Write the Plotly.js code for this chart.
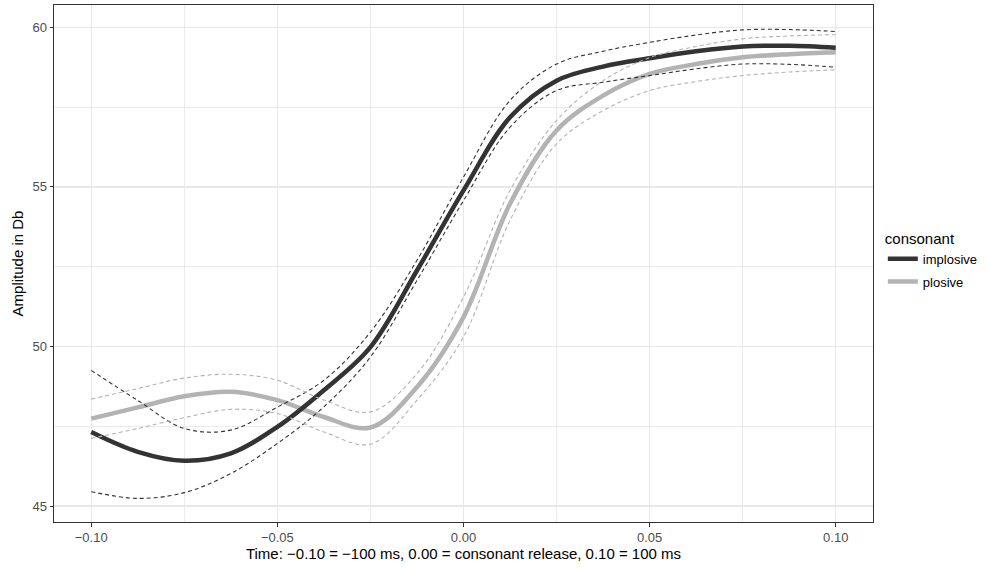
<!DOCTYPE html>
<html>
<head>
<meta charset="utf-8">
<script src="https://cdn.plot.ly/plotly-3.0.1.min.js"></script>
<style>html,body{margin:0;padding:0;background:#fff;}#chart{width:988px;height:569px;}</style>
</head>
<body>
<div id="chart"></div>
<script>
// Time points (s)
const time = [-0.1, -0.0875, -0.075, -0.0625, -0.05, -0.0375, -0.025, -0.0125, 0, 0.0125, 0.025, 0.0375, 0.05, 0.0625, 0.075, 0.0875, 0.1];

// implosive
const implosiveFit   = [47.32, 46.70, 46.42, 46.65, 47.48, 48.63, 49.98, 52.38, 54.89, 57.18, 58.33, 58.77, 59.03, 59.25, 59.40, 59.42, 59.36];
const implosiveUpper = [49.25, 48.31, 47.43, 47.38, 48.10, 48.94, 50.45, 52.70, 55.31, 57.71, 58.85, 59.25, 59.53, 59.76, 59.92, 59.93, 59.87];
const implosiveLower = [45.45, 45.24, 45.42, 46.02, 46.96, 48.11, 49.67, 52.07, 54.57, 56.87, 58.02, 58.28, 58.49, 58.70, 58.85, 58.84, 58.75];

// plosive
const plosiveFit   = [47.74, 48.09, 48.44, 48.58, 48.32, 47.79, 47.46, 48.73, 50.92, 54.47, 56.77, 57.86, 58.54, 58.85, 59.06, 59.16, 59.22];
const plosiveUpper = [48.35, 48.68, 49.01, 49.13, 48.94, 48.32, 47.95, 49.15, 51.55, 54.89, 57.08, 58.33, 59.05, 59.40, 59.64, 59.73, 59.77];
const plosiveLower = [47.12, 47.43, 47.77, 48.03, 47.90, 47.32, 46.94, 48.32, 50.30, 53.95, 56.35, 57.39, 58.02, 58.30, 58.49, 58.60, 58.67];

const xTicks = [-0.10, -0.05, 0.00, 0.05, 0.10];
const xTickText = ["\u22120.10", "\u22120.05", "0.00", "0.05", "0.10"];
const yTicks = [45, 50, 55, 60];

const darkCol = '#333333';
const lightCol = '#b3b3b3';

function ci(y, col, name, rank) {
  return {x: time, y: y, type: 'scatter', mode: 'lines', legendgroup: name, legendrank: rank, showlegend: false,
    line: {color: col, width: 1.1, dash: '4px,3px', shape: 'spline', smoothing: 1}, hoverinfo: 'skip'};
}

const traces = [
  {x: time, y: plosiveFit, type: 'scatter', mode: 'lines', name: 'plosive', legendgroup: 'plosive', legendrank: 2,
   line: {color: lightCol, width: 4.5, shape: 'spline', smoothing: 1}},
  {x: time, y: implosiveFit, type: 'scatter', mode: 'lines', name: 'implosive', legendgroup: 'implosive', legendrank: 1,
   line: {color: darkCol, width: 4.5, shape: 'spline', smoothing: 1}},
  ci(implosiveUpper, darkCol, 'implosive', 1),
  ci(implosiveLower, darkCol, 'implosive', 1),
  ci(plosiveUpper, lightCol, 'plosive', 2),
  ci(plosiveLower, lightCol, 'plosive', 2)
];

const gridCol = '#e8e8e8';
const layout = {
  width: 988, height: 569,
  margin: {l: 54, r: 115, t: 4.5, b: 47, pad: 0},
  paper_bgcolor: '#ffffff', plot_bgcolor: '#ffffff',
  font: {family: 'Liberation Sans, Arial, sans-serif', color: '#000000', size: 14},
  showlegend: true,
  legend: {
    x: 1.012, y: 0.576, xanchor: 'left', yanchor: 'top',
    title: {text: 'consonant', font: {size: 15, color: '#000'}},
    font: {size: 13, color: '#000'},
    traceorder: 'grouped',
    itemwidth: 30, tracegroupgap: 3,
    bgcolor: 'rgba(0,0,0,0)'
  },
  xaxis: {
    range: [-0.11, 0.11],
    tickvals: xTicks, ticktext: xTickText,
    ticks: 'outside', ticklen: 3.5, tickwidth: 1, tickcolor: '#333333',
    tickfont: {size: 13, color: '#4d4d4d'},
    showgrid: true, gridcolor: gridCol, gridwidth: 1.4,
    minor: {tickvals: [-0.075, -0.025, 0.025, 0.075], showgrid: true, gridcolor: gridCol, gridwidth: 0.9, ticks: ''},
    zeroline: false,
    showline: true, linecolor: '#333333', linewidth: 1, mirror: true,
    title: {text: 'Time: \u22120.10 = \u2212100 ms, 0.00 = consonant release, 0.10 = 100 ms', font: {size: 15, color: '#000'}, standoff: 3}
  },
  yaxis: {
    range: [44.5, 60.7],
    tickvals: yTicks,
    ticks: 'outside', ticklen: 3.5, tickwidth: 1, tickcolor: '#333333',
    tickfont: {size: 13, color: '#4d4d4d'},
    showgrid: true, gridcolor: gridCol, gridwidth: 1.4,
    minor: {tickvals: [47.5, 52.5, 57.5], showgrid: true, gridcolor: gridCol, gridwidth: 0.9, ticks: ''},
    zeroline: false,
    showline: true, linecolor: '#333333', linewidth: 1, mirror: true,
    title: {text: 'Amplitude in Db', font: {size: 15, color: '#000'}, standoff: 5}
  }
};

Plotly.newPlot('chart', traces, layout, {displayModeBar: false, staticPlot: true});
</script>
</body>
</html>
